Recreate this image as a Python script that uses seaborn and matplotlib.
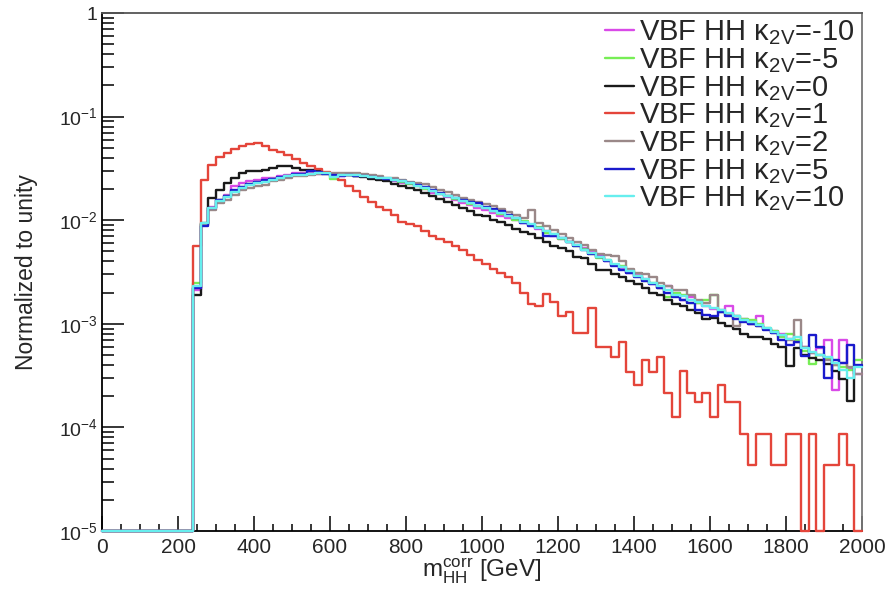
import numpy as np
import pandas as pd
import matplotlib
matplotlib.use("Agg")
import matplotlib.pyplot as plt
import seaborn as sns
from matplotlib.ticker import MultipleLocator, LogLocator, FixedLocator, FixedFormatter, NullFormatter

sns.set_style("ticks")
plt.rcParams['font.family'] = ['Liberation Sans', 'DejaVu Sans']
plt.rcParams['mathtext.fontset'] = 'custom'
plt.rcParams['mathtext.rm'] = 'Liberation Sans'
plt.rcParams['mathtext.it'] = 'Liberation Sans:italic'
plt.rcParams['mathtext.bf'] = 'Liberation Sans:bold'

# binning: 20 GeV bins from 0 to 2000
bin_width = 20
x_max = 2000
empty = [0.0] * 12  # bins 0-240 GeV are empty

k2v_m10 = empty + [
    0.0021, 0.0094, 0.0135, 0.0157, 0.0176, 0.0212, 0.0228, 0.0238, 0.0247, 0.0256,
    0.0256, 0.0265, 0.0276, 0.0286, 0.0284, 0.0284, 0.0282, 0.0280, 0.0276, 0.0270,
    0.0272, 0.0268, 0.0265, 0.0258, 0.0255, 0.0247, 0.0240, 0.0230, 0.0222, 0.0212,
    0.0200, 0.0185, 0.0178, 0.0166, 0.0156, 0.0148, 0.0140, 0.0132, 0.0126, 0.0118,
    0.0110, 0.0104, 0.0100, 0.0095, 0.0090, 0.0082, 0.0078, 0.0070, 0.0066, 0.0061,
    0.0058, 0.0054, 0.0049, 0.0045, 0.0040, 0.0037, 0.0034, 0.0031, 0.0030, 0.0027,
    0.0024, 0.0022, 0.0023, 0.0020, 0.0017, 0.0018, 0.0016, 0.0015, 0.0014, 0.0013,
    0.00150, 0.00120, 0.00112, 0.00100, 0.00120, 0.00090, 0.00085, 0.00080, 0.00072, 0.00066,
    0.00060, 0.00052, 0.00058, 0.00070, 0.00023, 0.00070, 0.00037, 0.00033]

k2v_m5 = empty + [
    0.0025, 0.0094, 0.0131, 0.0155, 0.0170, 0.0192, 0.0208, 0.0222, 0.0232, 0.0240,
    0.0250, 0.0258, 0.0265, 0.0272, 0.0278, 0.0280, 0.0284, 0.0282, 0.0250, 0.0272,
    0.0276, 0.0270, 0.0268, 0.0262, 0.0256, 0.0250, 0.0242, 0.0235, 0.0226, 0.0215,
    0.0202, 0.0190, 0.0178, 0.0170, 0.0160, 0.0153, 0.0142, 0.0136, 0.0130, 0.0122,
    0.0116, 0.0109, 0.0101, 0.0098, 0.0090, 0.0086, 0.0076, 0.0073, 0.0066, 0.0061,
    0.0056, 0.0053, 0.0047, 0.0043, 0.0041, 0.0037, 0.0036, 0.0032, 0.0029, 0.0026,
    0.0025, 0.0022, 0.0018, 0.0020, 0.0019, 0.0016, 0.0016, 0.0017, 0.0019, 0.0013,
    0.00125, 0.00118, 0.00112, 0.00110, 0.00100, 0.00092, 0.00085, 0.00075, 0.00080, 0.00070,
    0.00055, 0.00041, 0.00050, 0.00047, 0.00040, 0.00038, 0.00036, 0.00045]

k2v_0 = empty + [
    0.0019, 0.0092, 0.0164, 0.0197, 0.0228, 0.0256, 0.0286, 0.0296, 0.0296, 0.0306,
    0.0318, 0.0335, 0.0330, 0.0318, 0.0306, 0.0306, 0.0296, 0.0286, 0.0281, 0.0272,
    0.0272, 0.0266, 0.0260, 0.0252, 0.0245, 0.0238, 0.0226, 0.0214, 0.0204, 0.0194,
    0.0184, 0.0170, 0.0160, 0.0150, 0.0141, 0.0132, 0.0123, 0.0112, 0.0110, 0.0101,
    0.0096, 0.0090, 0.0082, 0.0077, 0.0074, 0.0068, 0.0062, 0.0056, 0.0054, 0.0050,
    0.0044, 0.0043, 0.0038, 0.0033, 0.0033, 0.0030, 0.0028, 0.0026, 0.0024, 0.0022,
    0.0020, 0.0019, 0.00170, 0.00155, 0.00150, 0.00135, 0.00128, 0.00112, 0.00115, 0.00102,
    0.00095, 0.00090, 0.00080, 0.00075, 0.00074, 0.00072, 0.00064, 0.00060, 0.00039, 0.00058,
    0.00050, 0.00047, 0.00045, 0.00041, 0.00035, 0.00029, 0.00018, 0.00039]

k2v_1 = empty + [
    0.0056, 0.0243, 0.0341, 0.0411, 0.0445, 0.0487, 0.0516, 0.0548, 0.0558, 0.0525,
    0.0480, 0.0454, 0.0430, 0.0390, 0.0356, 0.0330, 0.0310, 0.0290, 0.0270, 0.0245,
    0.0215, 0.0190, 0.0168, 0.0150, 0.0135, 0.0125, 0.0112, 0.0097, 0.0092, 0.0087,
    0.0079, 0.0071, 0.0066, 0.0061, 0.0056, 0.0051, 0.0046, 0.0041, 0.0038, 0.0034,
    0.0031, 0.0028, 0.0025, 0.00198, 0.00156, 0.00147, 0.00195, 0.00164, 0.00118, 0.00129,
    0.00082, 0.00082, 0.00142, 0.00060, 0.00060, 0.00048, 0.00066, 0.000346, 0.000258, 0.00045,
    0.000346, 0.00048, 0.000214, 0.000127, 0.000354, 0.000214, 0.000177, 0.000214, 0.000127, 0.000258,
    0.000177, 0.000177, 0.0000865, 0.0000434, 0.0000865, 0.0000865, 0.0000434, 0.0000434, 0.0000865, 0.0000865,
    0.0, 0.0000865, 0.0, 0.0000434, 0.0000434, 0.0000865, 0.0000434, 0.0]

k2v_2 = empty + [
    0.0022, 0.0090, 0.0126, 0.0145, 0.0157, 0.0176, 0.0195, 0.0205, 0.0212, 0.0220,
    0.0238, 0.0247, 0.0256, 0.0265, 0.0270, 0.0276, 0.0280, 0.0286, 0.0286, 0.0283,
    0.0285, 0.0283, 0.0278, 0.0272, 0.0265, 0.0258, 0.0254, 0.0245, 0.0236, 0.0228,
    0.0222, 0.0210, 0.0195, 0.0186, 0.0176, 0.0165, 0.0158, 0.0150, 0.0142, 0.0136,
    0.0128, 0.0120, 0.0113, 0.0106, 0.0125, 0.0094, 0.0087, 0.0080, 0.0074, 0.0068,
    0.0062, 0.0058, 0.0052, 0.0047, 0.0046, 0.0045, 0.0040, 0.0034, 0.0031, 0.0030,
    0.0028, 0.0025, 0.0023, 0.0021, 0.0021, 0.0019, 0.0017, 0.0016, 0.0019, 0.00135,
    0.00125, 0.00095, 0.00110, 0.00100, 0.00095, 0.00090, 0.00082, 0.00078, 0.00070, 0.00110,
    0.00060, 0.00052, 0.00050, 0.00045, 0.00040, 0.00042, 0.00038, 0.00033]

k2v_5 = empty + [
    0.0022, 0.0087, 0.0131, 0.0157, 0.0172, 0.0195, 0.0210, 0.0224, 0.0232, 0.0242,
    0.0250, 0.0262, 0.0268, 0.0278, 0.0282, 0.0296, 0.0290, 0.0282, 0.0276, 0.0270,
    0.0274, 0.0270, 0.0266, 0.0264, 0.0258, 0.0252, 0.0247, 0.0240, 0.0230, 0.0220,
    0.0210, 0.0196, 0.0184, 0.0172, 0.0165, 0.0156, 0.0150, 0.0148, 0.0135, 0.0128,
    0.0122, 0.0112, 0.0104, 0.0095, 0.0088, 0.0085, 0.0070, 0.0070, 0.0067, 0.0061,
    0.0056, 0.0052, 0.0047, 0.0044, 0.0040, 0.0036, 0.0033, 0.0031, 0.0028, 0.0026,
    0.0024, 0.0022, 0.0020, 0.0018, 0.0017, 0.0016, 0.00135, 0.00122, 0.0012, 0.0013,
    0.00120, 0.00112, 0.00105, 0.00100, 0.00095, 0.00088, 0.00082, 0.00070, 0.00062, 0.00066,
    0.00049, 0.00078, 0.00060, 0.00030, 0.00045, 0.00042, 0.00063, 0.00040]

k2v_10 = empty + [
    0.0023, 0.0094, 0.0131, 0.0152, 0.0167, 0.0189, 0.0205, 0.0220, 0.0228, 0.0236,
    0.0247, 0.0256, 0.0265, 0.0272, 0.0276, 0.0281, 0.0286, 0.0284, 0.0262, 0.0275,
    0.0276, 0.0272, 0.0268, 0.0263, 0.0258, 0.0254, 0.0246, 0.0238, 0.0228, 0.0216,
    0.0205, 0.0190, 0.0180, 0.0170, 0.0162, 0.0152, 0.0145, 0.0138, 0.0131, 0.0124,
    0.0117, 0.0110, 0.0104, 0.0097, 0.0092, 0.0085, 0.0079, 0.0073, 0.0068, 0.0062,
    0.0057, 0.0052, 0.0048, 0.0044, 0.0041, 0.0038, 0.0035, 0.0032, 0.0029, 0.0027,
    0.0025, 0.0023, 0.0021, 0.0019, 0.00185, 0.0017, 0.00162, 0.00150, 0.00142, 0.00135,
    0.00128, 0.00120, 0.00110, 0.00105, 0.00098, 0.00092, 0.00084, 0.00078, 0.00072, 0.00075,
    0.00058, 0.00054, 0.00050, 0.00048, 0.00042, 0.00036, 0.00030, 0.00038]

labels = ["VBF HH κ$_{\\mathregular{2V}}$=-10",
          "VBF HH κ$_{\\mathregular{2V}}$=-5",
          "VBF HH κ$_{\\mathregular{2V}}$=0",
          "VBF HH κ$_{\\mathregular{2V}}$=1",
          "VBF HH κ$_{\\mathregular{2V}}$=2",
          "VBF HH κ$_{\\mathregular{2V}}$=5",
          "VBF HH κ$_{\\mathregular{2V}}$=10"]
series = [k2v_m10, k2v_m5, k2v_0, k2v_1, k2v_2, k2v_5, k2v_10]
colors = ["#d94ae8", "#77ee55", "#1a1a1a", "#e4453a", "#9a8888", "#1a1acc", "#66eeee"]

y_min, y_max = 1e-5, 1.0
y_ticks = [1e-5, 1e-4, 1e-3, 1e-2, 1e-1, 1.0]
y_ticklabels = ["$10^{-5}$", "$10^{-4}$", "$10^{-3}$", "$10^{-2}$", "$10^{-1}$", "1"]
x_ticks = [0, 200, 400, 600, 800, 1000, 1200, 1400, 1600, 1800, 2000]

fig = plt.figure(figsize=(8.85, 5.89), dpi=100)
ax = fig.add_axes([102 / 885, 1 - 531 / 589, 760 / 885, 518 / 589])
ax.set_yscale("log")

edges = np.arange(0, x_max + bin_width, bin_width)
for lab, vals, col in zip(labels, series, colors):
    v = np.asarray(vals, dtype=float)
    v = np.maximum(v, y_min)  # ROOT draws empty bins at the axis minimum
    yv = np.append(v, v[-1])
    df = pd.DataFrame({"x": edges, "y": yv})
    sns.lineplot(data=df, x="x", y="y", ax=ax, color=col, linewidth=1.7,
                 drawstyle="steps-post", estimator=None, sort=False,
                 label=lab, clip_on=False, zorder=3)

ax.set_xlim(0, x_max)
ax.set_ylim(y_min, y_max)

ax.xaxis.set_major_locator(FixedLocator(x_ticks))
ax.xaxis.set_minor_locator(MultipleLocator(50))
ax.yaxis.set_major_locator(FixedLocator(y_ticks))
ax.yaxis.set_major_formatter(FixedFormatter(y_ticklabels))
ax.yaxis.set_minor_locator(LogLocator(base=10, subs=np.arange(2, 10)))
ax.yaxis.set_minor_formatter(NullFormatter())

ax.tick_params(axis="both", which="both", direction="in", top=False, right=False,
               width=1.1, color="black")
ax.tick_params(axis="y", which="major", length=16, labelsize=14, pad=3)
ax.tick_params(axis="y", which="minor", length=8.5)
ax.tick_params(axis="x", which="major", length=11, labelsize=15, pad=5)
ax.tick_params(axis="x", which="minor", length=5)

for side in ["left", "bottom"]:
    ax.spines[side].set_color("black")
    ax.spines[side].set_linewidth(1.3)
ax.spines["top"].set_color("#555555")
ax.spines["top"].set_linewidth(1.3)
ax.spines["right"].set_color("#777777")
ax.spines["right"].set_linewidth(1.3)

ax.set_xlabel("m$_{\\mathregular{HH}}^{\\mathregular{corr}}$ [GeV]", fontsize=17.5, labelpad=0)
ax.set_ylabel("Normalized to unity", fontsize=16.5, labelpad=15)

leg = ax.legend(loc="upper right", bbox_to_anchor=(0.992, 0.992), frameon=False,
                fontsize=21, handlelength=1.0, handletextpad=0.18,
                labelspacing=-0.04, borderaxespad=0.0, borderpad=0.05)
for line in leg.get_lines():
    line.set_linewidth(1.7)

fig.savefig("out.png", dpi=100)
